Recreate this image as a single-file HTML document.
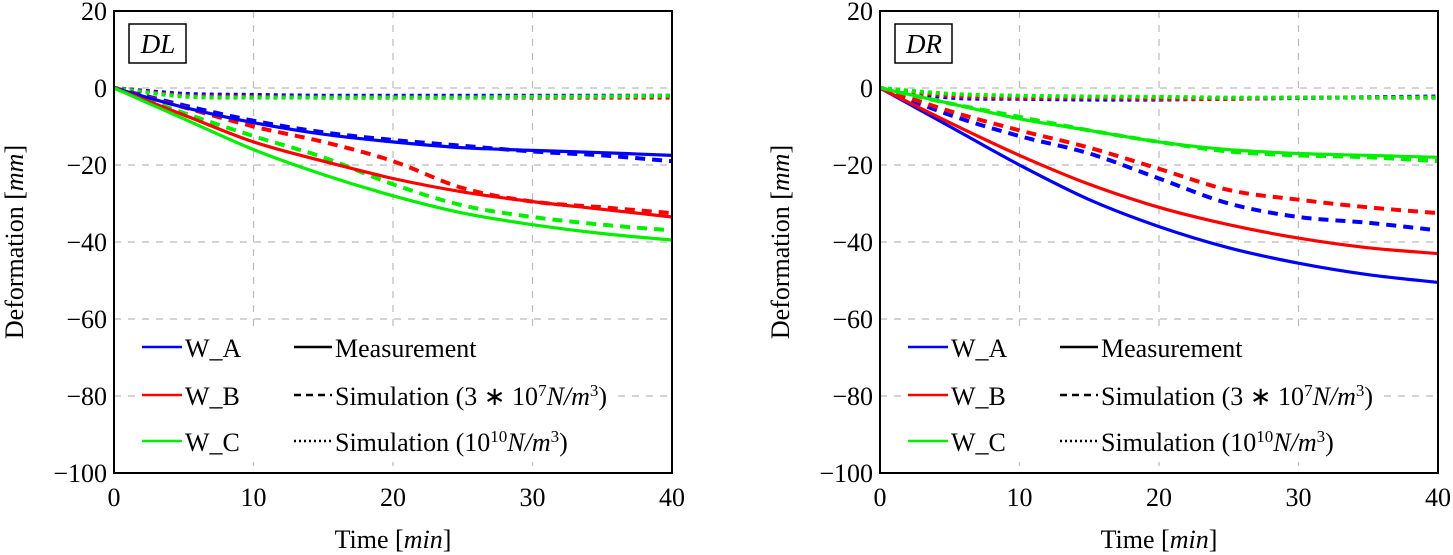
<!DOCTYPE html>
<html><head><meta charset="utf-8"><style>
body{margin:0;background:#fff}
svg{display:block;font-family:"Liberation Serif",serif}
</style></head><body>
<svg id="c" width="1453" height="555" xmlns="http://www.w3.org/2000/svg"></svg>
<script>
const xTicks=[0,10,20,30,40];
const yTicks=[20,0,-20,-40,-60,-80,-100];
const times=[0,5,10,15,20,25,30,35,40];
const dlMeasA=[0,-5,-9,-12,-14,-15.5,-16.2,-16.8,-17.5];
const dlMeasB=[0,-7,-14,-19,-23.5,-27,-29.5,-31.5,-33.5];
const dlMeasC=[0,-8,-16,-22.5,-28,-32.5,-35.5,-37.8,-39.5];
const dlSimA=[0,-4.5,-8.5,-11.5,-13.5,-15,-16.5,-17.5,-19];
const dlSimB=[0,-5,-10,-14,-19,-26,-29.5,-31,-32.5];
const dlSimC=[0,-6.5,-12.5,-18,-25,-30.5,-33.5,-35.5,-37];
const dlStiffA=[0,-1.5,-1.8,-2,-2,-2,-2,-2,-2];
const dlStiffB=[0,-2,-2.3,-2.5,-2.5,-2.5,-2.5,-2.5,-2.5];
const dlStiffC=[0,-2.2,-2.5,-2.5,-2.5,-2.5,-2.3,-2.2,-2];
const drMeasA=[0,-10,-20,-29,-36,-41.5,-45.5,-48.5,-50.5];
const drMeasB=[0,-9,-17.5,-25,-31,-35.5,-39,-41.5,-43];
const drMeasC=[0,-4,-8,-11,-14,-16,-17,-17.5,-18];
const drSimA=[0,-7,-12.5,-17,-23.5,-30,-33.5,-35,-37];
const drSimB=[0,-6,-11,-15.5,-21,-26.5,-29,-31,-32.5];
const drSimC=[0,-4,-7.5,-11,-14,-16.5,-17.5,-18,-19];
const drStiffA=[0,-2.5,-2.8,-3,-3,-2.8,-2.6,-2.4,-2.2];
const drStiffB=[0,-2,-2.5,-2.5,-2.8,-2.8,-2.5,-2.5,-2.5];
const drStiffC=[0,-1.5,-2,-2.2,-2.3,-2.5,-2.5,-2.5,-2.5];

const NS='http://www.w3.org/2000/svg';
const svg=document.getElementById('c');
function mk(t,a,p){const e=document.createElementNS(NS,t);for(const k in a)e.setAttribute(k,a[k]);(p||svg).appendChild(e);return e;}
const Y0=11,Y1=473;
const COL={A:'#0000ff',B:'#ff0000',C:'#00ee00'};
function smooth(pts){
  let d='M'+pts[0][0].toFixed(1)+','+pts[0][1].toFixed(1);
  for(let i=0;i<pts.length-1;i++){
    const p0=pts[Math.max(i-1,0)],p1=pts[i],p2=pts[i+1],p3=pts[Math.min(i+2,pts.length-1)];
    const c1=[p1[0]+(p2[0]-p0[0])/6,p1[1]+(p2[1]-p0[1])/6];
    const c2=[p2[0]-(p3[0]-p1[0])/6,p2[1]-(p3[1]-p1[1])/6];
    d+='C'+c1.map(v=>v.toFixed(1)).join(',')+' '+c2.map(v=>v.toFixed(1)).join(',')+' '+p2[0].toFixed(1)+','+p2[1].toFixed(1);
  }
  return d;
}
function panel(px0,px1,label,prefix,series){
  const g=mk('g',{});
  
  
  const sx=v=>px0+(v-0)/40*(px1-px0);
  const sy=v=>Y0+(20-v)/120*(Y1-Y0);
  xTicks.forEach(t=>{const l=mk('line',{x1:sx(t),x2:sx(t),y1:Y0,y2:Y1,stroke:'#bbb','stroke-dasharray':'7,7','stroke-width':1.2},g);
    
    const tx=mk('text',{x:sx(t),y:Y1+33,'text-anchor':'middle','font-size':26},g);tx.textContent=t;
    });
  yTicks.forEach(t=>{const l=mk('line',{x1:px0,x2:px1,y1:sy(t),y2:sy(t),stroke:'#bbb','stroke-dasharray':'7,7','stroke-width':1.2},g);
    
    const tx=mk('text',{x:px0-7,y:sy(t)+9,'text-anchor':'end','font-size':26},g);tx.textContent=(t<0?'\u2212'+(-t):t);
    });
  series.forEach(s=>{
    const pts=times.map((t,i)=>[sx(t),sy(s.v[i])]);
    const p=mk('path',{d:smooth(pts),fill:'none',stroke:COL[s.w],'stroke-width':s.sw,'stroke-dasharray':s.dash},g);
    
  });
  const lg=mk('g',{},g);
  
  mk('rect',{x:px0+24,y:328,width:480,height:134,fill:'#fff'},lg);
  const rows=[347,395,441];
  ['A','B','C'].forEach((w,i)=>{
    mk('line',{x1:px0+28,x2:px0+68,y1:rows[i],y2:rows[i],stroke:COL[w],'stroke-width':2.5},lg);
    const t=mk('text',{x:px0+71,y:rows[i]+10,'font-size':26},lg);t.textContent='W_'+w;
    
  });
  const dashes=['none','7,5','2,3'];
  const labs=['Measurement','Simulation (3 \u2217 10<tspan baseline-shift="super" font-size="17">7</tspan><tspan font-style="italic">N/m</tspan><tspan baseline-shift="super" font-size="17">3</tspan>)','Simulation (10<tspan baseline-shift="super" font-size="17">10</tspan><tspan font-style="italic">N/m</tspan><tspan baseline-shift="super" font-size="17">3</tspan>)'];
  rows.forEach((r,i)=>{
    mk('line',{x1:px0+180,x2:px0+218,y1:r,y2:r,stroke:'#000','stroke-width':2.5,'stroke-dasharray':dashes[i]},lg);
    const t=mk('text',{x:px0+221,y:r+10,'font-size':26},lg);t.innerHTML=labs[i];
    
  });
  const f=mk('rect',{x:px0,y:Y0,width:px1-px0,height:Y1-Y0,fill:'none',stroke:'#000','stroke-width':2},g);
  
  const b=mk('rect',{x:px0+15,y:24,width:57,height:39,fill:'#fff',stroke:'#000','stroke-width':1.5},g);
  
  const bt=mk('text',{x:px0+44,y:53,'text-anchor':'middle','font-size':27,'font-style':'italic'},g);bt.textContent=label;
  
  const xt=mk('text',{x:(px0+px1)/2,y:548,'text-anchor':'middle','font-size':26},g);
  xt.innerHTML='Time [<tspan font-style="italic">min</tspan>]';
  
  const yt=mk('text',{x:0,y:0,'text-anchor':'middle','font-size':26,transform:'translate('+(px0-91)+',242) rotate(-90)'},g);
  yt.innerHTML='Deformation [<tspan font-style="italic">mm</tspan>]';
  
}
const DOT='4,4',DASH='10,7';
panel(114,672,'DL','dl',[
 {w:'A',v:dlStiffA,dash:DOT,sw:4,name:'dl-stiff-w-a'},{w:'B',v:dlStiffB,dash:DOT,sw:4,name:'dl-stiff-w-b'},{w:'C',v:dlStiffC,dash:DOT,sw:4,name:'dl-stiff-w-c'},
 {w:'A',v:dlSimA,dash:DASH,sw:4,name:'dl-sim-w-a'},{w:'B',v:dlSimB,dash:DASH,sw:4,name:'dl-sim-w-b'},{w:'C',v:dlSimC,dash:DASH,sw:4,name:'dl-sim-w-c'},
 {w:'A',v:dlMeasA,dash:'none',sw:3.2,name:'dl-meas-w-a'},{w:'B',v:dlMeasB,dash:'none',sw:3.2,name:'dl-meas-w-b'},{w:'C',v:dlMeasC,dash:'none',sw:3.2,name:'dl-meas-w-c'}]);
panel(880,1438,'DR','dr',[
 {w:'A',v:drStiffA,dash:DOT,sw:4,name:'dr-stiff-w-a'},{w:'B',v:drStiffB,dash:DOT,sw:4,name:'dr-stiff-w-b'},{w:'C',v:drStiffC,dash:DOT,sw:4,name:'dr-stiff-w-c'},
 {w:'A',v:drSimA,dash:DASH,sw:4,name:'dr-sim-w-a'},{w:'B',v:drSimB,dash:DASH,sw:4,name:'dr-sim-w-b'},{w:'C',v:drSimC,dash:DASH,sw:4,name:'dr-sim-w-c'},
 {w:'A',v:drMeasA,dash:'none',sw:3.2,name:'dr-meas-w-a'},{w:'B',v:drMeasB,dash:'none',sw:3.2,name:'dr-meas-w-b'},{w:'C',v:drMeasC,dash:'none',sw:3.2,name:'dr-meas-w-c'}]);
</script>
</body></html>
